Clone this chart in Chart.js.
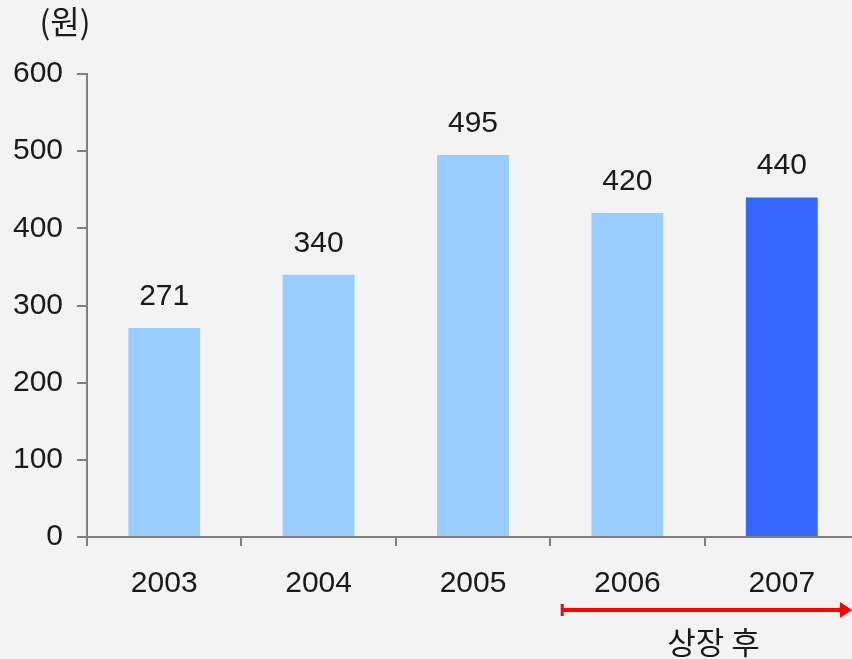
<!DOCTYPE html>
<html><head><meta charset="utf-8">
<script src="https://cdn.jsdelivr.net/npm/chart.js@4/dist/chart.umd.min.js"></script>
<style>
html,body{margin:0;padding:0;background:#f3f3f3;overflow:hidden;}
#wrap{position:relative;width:880px;height:659px;}
</style></head><body>
<div id="wrap"><canvas id="c"></canvas></div>
<script>
const categories = ['2003','2004','2005','2006','2007'];
const values = [271, 340, 495, 420, 440];
const barColors = ['#99ccff','#99ccff','#99ccff','#99ccff','#3366ff'];
const yTicks = [0,100,200,300,400,500,600];
const unitLabel = '(원)';
const afterListingLabel = '상장 후';
const afterListingStart = 3;

const FONT = '"Liberation Sans", Arial, "Noto Sans CJK KR", sans-serif';
const KFONT = '"Noto Sans CJK KR", "Liberation Sans", sans-serif';
const TXT = '#1a1a1a';

const extras = {
  id: 'extras',
  afterDatasetsDraw(chart) {
    const ctx = chart.ctx;
    const meta = chart.getDatasetMeta(0);
    ctx.save();
    ctx.fillStyle = TXT;
    ctx.font = '30px ' + FONT;
    ctx.textAlign = 'center';
    ctx.textBaseline = 'alphabetic';
    meta.data.forEach((bar, i) => {
      ctx.fillText(String(values[i]), bar.x, bar.y - 23);
    });
    // unit label
    ctx.font = '32px ' + KFONT;
    ctx.textBaseline = 'middle';
    ctx.fillText(unitLabel, 65, 22);
    // arrow
    const xs = chart.scales.x;
    const boundary = (xs.getPixelForValue(afterListingStart - 1) + xs.getPixelForValue(afterListingStart)) / 2;
    const x0 = boundary + 11;
    const x1 = 852;
    const ay = 610;
    ctx.strokeStyle = '#ff0000';
    ctx.fillStyle = '#ff0000';
    ctx.lineWidth = 4;
    ctx.beginPath();
    ctx.moveTo(x0, ay); ctx.lineTo(x1 - 10, ay); ctx.stroke();
    ctx.lineWidth = 3;
    ctx.beginPath();
    ctx.moveTo(x0 + 1, ay - 6); ctx.lineTo(x0 + 1, ay + 6); ctx.stroke();
    ctx.beginPath();
    ctx.moveTo(x1 - 12, ay - 8); ctx.lineTo(x1, ay); ctx.lineTo(x1 - 12, ay + 8); ctx.closePath(); ctx.fill();
    ctx.fillStyle = TXT;
    ctx.font = '31px ' + KFONT;
    ctx.textAlign = 'center';
    ctx.textBaseline = 'middle';
    ctx.fillText(afterListingLabel, (xs.getPixelForValue(3) + xs.getPixelForValue(4)) / 2 + 9, 642);
    ctx.restore();
  }
};

new Chart(document.getElementById('c'), {
  type: 'bar',
  data: {
    labels: categories,
    datasets: [{ data: values, backgroundColor: barColors, barPercentage: 0.93, categoryPercentage: 0.5 }]
  },
  options: {
    responsive: true,
    maintainAspectRatio: false,
    animation: false,
    layout: { padding: { top: 74, right: 21, bottom: 62, left: 0 } },
    plugins: { legend: { display: false }, tooltip: { enabled: false } },
    scales: {
      x: {
        grid: { drawOnChartArea: false, drawTicks: true, tickLength: 9, color: '#808080', lineWidth: 2 },
        border: { color: '#808080', width: 2 },
        ticks: { color: TXT, font: { family: FONT, size: 30 }, padding: 20, maxRotation: 0 },
        afterFit(s) { s.height = 60; }
      },
      y: {
        min: 0, max: 600,
        afterBuildTicks(s) { s.ticks = yTicks.map(v => ({ value: v })); },
        grid: { drawOnChartArea: false, drawTicks: true, tickLength: 10, color: '#808080', lineWidth: 2 },
        border: { color: '#808080', width: 2 },
        ticks: { color: TXT, font: { family: FONT, size: 30 }, padding: 14 },
        afterFit(s) { s.width = 87; }
      }
    }
  },
  plugins: [extras]
});
</script>
</body></html>
